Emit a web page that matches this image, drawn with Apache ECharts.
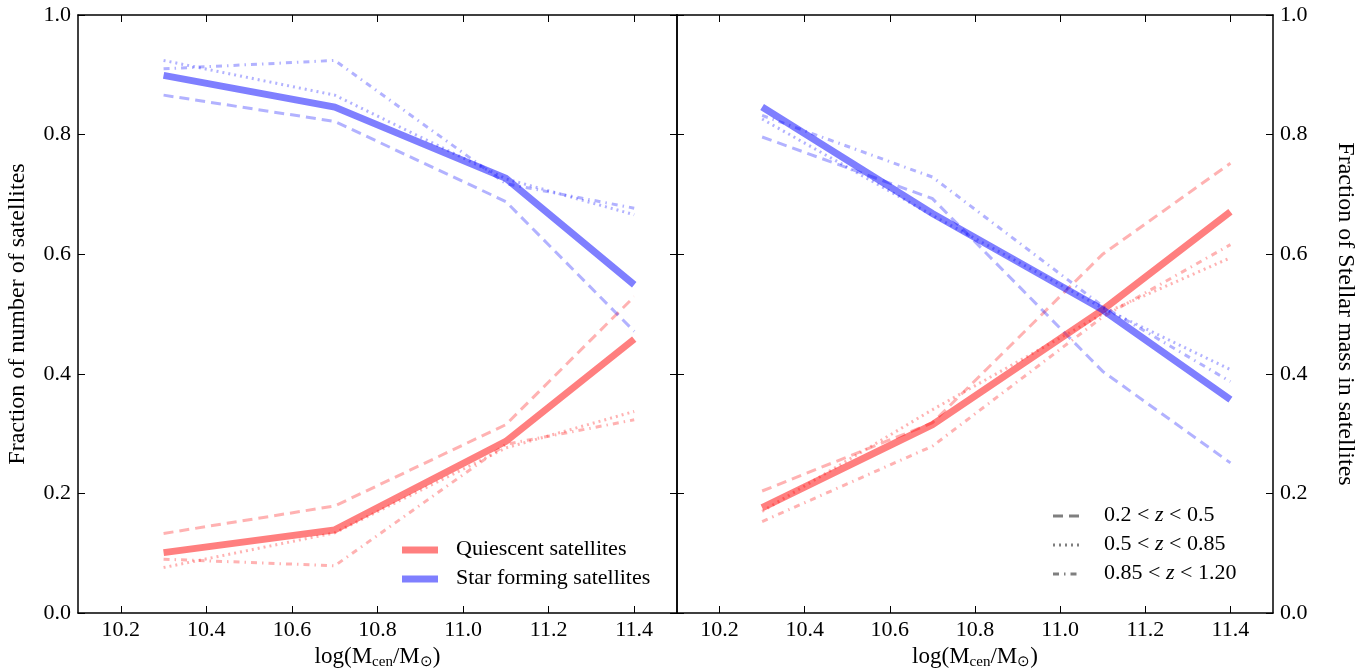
<!DOCTYPE html>
<html><head><meta charset="utf-8">
<script src="https://cdn.jsdelivr.net/npm/echarts@6/dist/echarts.min.js"></script>
<style>html,body{margin:0;padding:0;background:#fff}#c{width:1364px;height:670px}</style>
</head><body><div id="c"></div>
<script>
// ---- data ----
const massBins = [10.3, 10.7, 11.1, 11.4];
const xTicks = [10.2, 10.4, 10.6, 10.8, 11.0, 11.2, 11.4];
const yTicks = [0.0, 0.2, 0.4, 0.6, 0.8, 1.0];
const zLabels = [['0.2 < ', ' < 0.5'], ['0.5 < ', ' < 0.85'], ['0.85 < ', ' < 1.20']];

// Left panel: fraction of number of satellites
const numQuiescentAll = [0.101, 0.139, 0.287, 0.458];
const numQuiescentZ1  = [0.133, 0.179, 0.315, 0.529];
const numQuiescentZ2  = [0.076, 0.134, 0.276, 0.337];
const numQuiescentZ3  = [0.090, 0.079, 0.282, 0.323];
const numStarFormAll  = [0.899, 0.846, 0.727, 0.549];
const numStarFormZ1   = [0.866, 0.822, 0.688, 0.471];
const numStarFormZ2   = [0.924, 0.866, 0.726, 0.666];
const numStarFormZ3   = [0.910, 0.924, 0.718, 0.677];

// Right panel: fraction of stellar mass in satellites
const massQuiescentAll = [0.176, 0.315, 0.507, 0.671];
const massQuiescentZ1  = [0.204, 0.318, 0.600, 0.752];
const massQuiescentZ2  = [0.170, 0.340, 0.500, 0.594];
const massQuiescentZ3  = [0.153, 0.279, 0.495, 0.616];
const massStarFormAll  = [0.846, 0.668, 0.507, 0.357];
const massStarFormZ1   = [0.796, 0.693, 0.404, 0.251];
const massStarFormZ2   = [0.826, 0.665, 0.510, 0.407];
const massStarFormZ3   = [0.832, 0.729, 0.513, 0.387];

// ---- styling ----
const FONT = 'Liberation Serif';
const RED = 'rgba(255,0,0,0.5)', RED_L = 'rgba(255,0,0,0.3)';
const BLUE = 'rgba(0,0,255,0.5)', BLUE_L = 'rgba(0,0,255,0.3)';
const DASH = [10, 6], DOT = [2, 4], DASHDOT = [6, 5, 1.5, 5];

const zip = ys => massBins.map((x, i) => [x, ys[i]]);
function line(name, ys, idx, color, width, type) {
  return {
    name, type: 'line', xAxisIndex: idx, yAxisIndex: idx, data: zip(ys),
    symbol: 'none', silent: true, animation: false,
    lineStyle: { color, width, type, cap: 'butt', join: 'miter' }
  };
}

const gridL = { left: 78, top: 15, width: 599, height: 598, containLabel: false, outerBoundsMode: 'none' };
const gridR = { left: 677, top: 15, width: 596, height: 598, containLabel: false, outerBoundsMode: 'none' };

function xAx(gi, pos, show) {
  return {
    type: 'value', gridIndex: gi, position: pos, min: 10.1, max: 11.5,
    name: show ? 'log(M{s|cen}/M{s|⊙})' : '', nameLocation: 'middle', nameGap: 29,
    nameTextStyle: { fontFamily: FONT, fontSize: 23, color: '#000',
      rich: { s: { fontFamily: FONT, fontSize: 15, color: '#000', verticalAlign: 'bottom', padding: [10, 0, 0, 0] } } },
    splitLine: { show: false },
    axisLine: { show: true, onZero: false, lineStyle: { color: '#000', width: 1.5 } },
    axisTick: { show: true, inside: true, length: 7, customValues: xTicks, lineStyle: { color: '#000', width: 1 } },
    axisLabel: { show: show, customValues: xTicks, formatter: v => v.toFixed(1), fontFamily: FONT, fontSize: 22, color: '#000', margin: 6 }
  };
}
function yAx(gi, pos, show, name, rot, gap) {
  return {
    type: 'value', gridIndex: gi, position: pos, min: 0, max: 1, interval: 0.2,
    name: name || '', nameLocation: 'middle', nameGap: gap || 50, nameRotate: rot,
    nameTextStyle: { fontFamily: FONT, fontSize: 24, color: '#000' },
    splitLine: { show: false },
    axisLine: { show: true, onZero: false, lineStyle: { color: '#000', width: 1.5 } },
    axisTick: { show: true, inside: true, length: 7, lineStyle: { color: '#000', width: 1 } },
    axisLabel: { show: show, formatter: v => v.toFixed(1), fontFamily: FONT, fontSize: 22, color: '#000', margin: 7 }
  };
}

const series = [
  line('q1', numQuiescentZ1, 0, RED_L, 3, DASH),
  line('q2', numQuiescentZ2, 0, RED_L, 3, DOT),
  line('q3', numQuiescentZ3, 0, RED_L, 3, DASHDOT),
  line('s1', numStarFormZ1, 0, BLUE_L, 3, DASH),
  line('s2', numStarFormZ2, 0, BLUE_L, 3, DOT),
  line('s3', numStarFormZ3, 0, BLUE_L, 3, DASHDOT),
  line('Quiescent satellites', numQuiescentAll, 0, RED, 7, 'solid'),
  line('Star forming satellites', numStarFormAll, 0, BLUE, 7, 'solid'),
  line('mq1', massQuiescentZ1, 1, RED_L, 3, DASH),
  line('mq2', massQuiescentZ2, 1, RED_L, 3, DOT),
  line('mq3', massQuiescentZ3, 1, RED_L, 3, DASHDOT),
  line('ms1', massStarFormZ1, 1, BLUE_L, 3, DASH),
  line('ms2', massStarFormZ2, 1, BLUE_L, 3, DOT),
  line('ms3', massStarFormZ3, 1, BLUE_L, 3, DASHDOT),
  line('mqa', massQuiescentAll, 1, RED, 7, 'solid'),
  line('msa', massStarFormAll, 1, BLUE, 7, 'solid')
];

// legend drawn as graphic samples
const txt = (x, y, t, rich) => ({ type: 'text', x, y,
  style: { text: t, fontFamily: FONT, fontSize: 22, fill: '#000', verticalAlign: 'middle', rich } });
const seg = (x, y, w, color, width, dash) => ({ type: 'line', shape: { x1: x, y1: y, x2: x + w, y2: y },
  style: { stroke: color, lineWidth: width, lineDash: dash, lineCap: 'butt' } });
const GRAY = 'rgba(0,0,0,0.5)';
const zRich = { i: { fontFamily: FONT, fontStyle: 'italic', fontSize: 22, fill: '#000' } };
const zText = p => p[0] + '{i|z}' + p[1];
const graphic = [
  seg(402, 550, 36, RED, 7, null), txt(456, 549, 'Quiescent satellites'),
  seg(402, 579, 36, BLUE, 7, null), txt(456, 578, 'Star forming satellites'),
  seg(1053, 516, 27, GRAY, 3, DASH), txt(1104, 515, zText(zLabels[0]), zRich),
  seg(1053, 545, 27, GRAY, 3, DOT), txt(1104, 544, zText(zLabels[1]), zRich),
  seg(1053, 574, 27, GRAY, 3, DASHDOT), txt(1104, 573, zText(zLabels[2]), zRich)
];

const chart = echarts.init(document.getElementById('c'), null, { renderer: 'canvas' });
chart.setOption({
  backgroundColor: '#fff',
  animation: false,
  grid: [gridL, gridR],
  xAxis: [xAx(0, 'bottom', true), xAx(1, 'bottom', true), xAx(0, 'top', false), xAx(1, 'top', false)],
  yAxis: [
    yAx(0, 'left', true, 'Fraction of number of satellites', 90, 48),
    yAx(1, 'right', true, 'Fraction of Stellar mass in satellites', -90, 60),
    yAx(0, 'right', false), yAx(1, 'left', false)
  ],
  series,
  graphic
});
</script></body></html>
